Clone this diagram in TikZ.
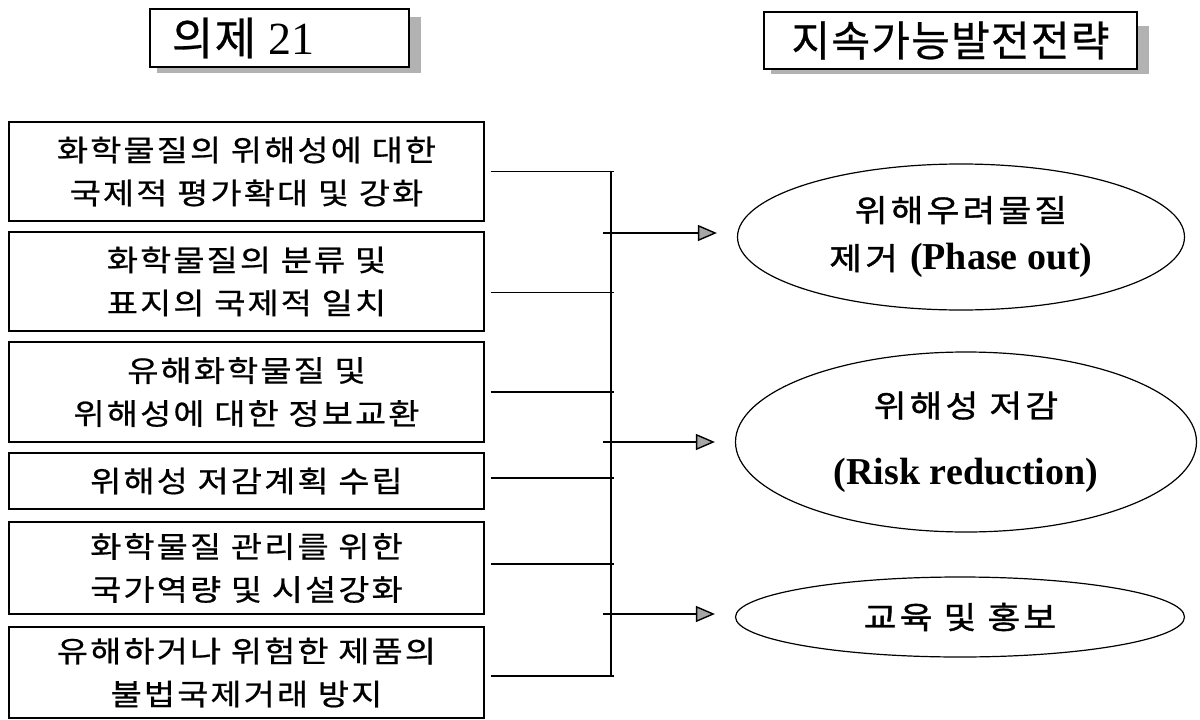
\documentclass[tikz,border=0pt]{standalone}
\usepackage{fontspec}
\setmainfont{Liberation Serif}
\newfontfamily\krbox[FakeStretch=1.15,LetterSpace=7,FakeBold=0.6]{Noto Sans CJK KR}
\newfontfamily\krell[FakeStretch=1.15,LetterSpace=10,FakeBold=1.2]{Noto Sans CJK KR}
\newfontfamily\krhead[LetterSpace=3,FakeBold=0.6]{Noto Sans CJK KR}
\usetikzlibrary{shapes.geometric,arrows.meta,backgrounds}
\begin{document}
\begin{tikzpicture}[x=1pt,y=-1pt,
  itembox/.style={draw,line width=1.2pt,minimum width=475pt,inner sep=0pt,align=center,
    font=\krbox\fontsize{29.5}{43}\selectfont},
  headbox/.style={draw,line width=1.2pt,fill=white,inner sep=0pt},
  goal/.style={draw,ellipse,line width=1.2pt,inner sep=0pt,align=center},
  link/.style={line width=1.3pt,shorten >=-3pt},
  arr/.style={line width=1.3pt,shorten >=20pt,
    -{Triangle[length=19pt,width=16pt,fill=gray!70,line width=1.4pt]}},
  shade/.style={fill=gray!60}]
\useasboundingbox (0,0) rectangle (1200,720);

% headers
\node[headbox,minimum height=58pt,text width=215pt,inner xsep=22pt,align=left] (h1) at (279.5,38)
  {\krhead\fontsize{45}{50}\selectfont 의제\hspace{12pt}{\fontsize{46}{50}\selectfont\rmfamily 21}};
\node[headbox,minimum width=373pt,minimum height=57pt,font=\krhead\fontsize{42}{48}\selectfont] (h2) at (950.5,40.5)
  {지속가능발전전략};
\begin{scope}[on background layer]
  \fill[shade] ([xshift=8pt,yshift=-9pt]h1.north west) rectangle ([xshift=11pt,yshift=-5pt]h1.south east);
  \fill[shade] ([xshift=8pt,yshift=-15pt]h2.north west) rectangle ([xshift=11pt,yshift=-4pt]h2.south east);
\end{scope}

% left items
\node[itembox,minimum height=99pt] (b1) at (246.5,171.5) {화학물질의 위해성에 대한\\국제적 평가확대 및 강화};
\node[itembox,minimum height=99pt] (b2) at (246.5,281.5) {화학물질의 분류 및\\표지의 국제적 일치};
\node[itembox,minimum height=100pt] (b3) at (246.5,392) {유해화학물질 및\\위해성에 대한 정보교환};
\node[itembox,minimum height=56pt] (b4) at (246.5,481) {위해성 저감계획 수립};
\node[itembox,minimum height=92pt] (b5) at (246.5,568) {화학물질 관리를 위한\\국가역량 및 시설강화};
\node[itembox,minimum height=91pt] (b6) at (246.5,672.5) {유해하거나 위험한 제품의\\불법국제거래 방지};

% goals
\node[goal,minimum width=447pt,minimum height=146pt,font=\fontsize{31}{48}\selectfont] (e1) at (961,237)
  {{\krell 위해우려물질}\\
   {\krell 제거}\hspace{12pt}{\fontsize{38}{48}\selectfont\bfseries (Phase out)}};
\node[goal,minimum width=461pt,minimum height=180pt,font=\fontsize{31}{67}\selectfont] (e2) at (966,442)
  {{\krell 위해성 저감}\\
   {\fontsize{38}{67}\selectfont\bfseries (Risk reduction)}};
\node[goal,minimum width=449pt,minimum height=80pt,font=\krell\fontsize{31}{36}\selectfont] (e3) at (960,617)
  {교육 및 홍보};

% bus
\coordinate (bustop) at (611,171.5);
\coordinate (busbot) at (611,676);
\coordinate (arrx) at (603,0);
\draw[line width=1.5pt] (bustop) -- (busbot);

\draw[link] ([xshift=6pt]b1.east) -- (b1.east -| bustop);
\draw[link] ([xshift=6pt,yshift=-11pt]b2.east) -- ([yshift=-11pt]b2.east -| bustop);
\draw[link] ([xshift=6pt]b3.east) -- (b3.east -| bustop);
\draw[link] ([xshift=6pt,yshift=3pt]b4.east) -- ([yshift=3pt]b4.east -| bustop);
\draw[link] ([xshift=6pt,yshift=4pt]b5.east) -- ([yshift=4pt]b5.east -| bustop);
\draw[link] ([xshift=6pt,yshift=-3.5pt]b6.east) -- (busbot);

\draw[arr] ([yshift=4pt]e1.west -| arrx) -- ([yshift=4pt]e1.west);
\draw[arr] (e2.west -| arrx) -- (e2.west);
\draw[arr] ([yshift=3pt]e3.west -| arrx) -- ([yshift=3pt]e3.west);
\end{tikzpicture}
\end{document}
